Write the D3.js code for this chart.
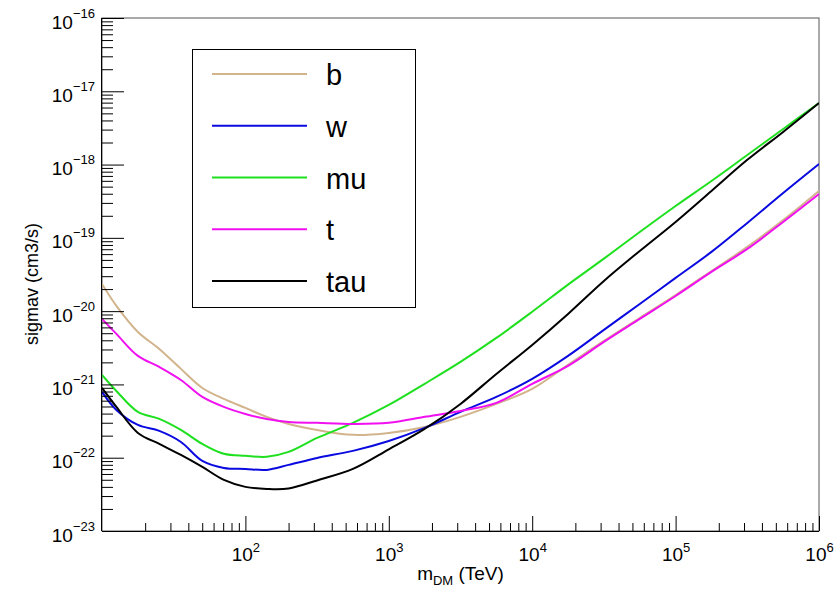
<!DOCTYPE html>
<html lang="en">
<head>
    <meta charset="UTF-8">
    <title>sigmav vs m_DM</title>
    <style>
        body {
            margin: 0;
            background: #ffffff;
        }
        svg {
            display: block;
            font-family: 'Liberation Sans', Arial, Helvetica, sans-serif;
        }
        .axis path, .axis line {
            stroke: #000;
        }
    </style>
</head>
<body>
<svg id="chart" width="840" height="589"></svg>

<script src="https://d3js.org/d3.v7.min.js"></script>
<script>
  // masses (TeV) and limits (cm3/s)
  const masses = [10, 12.6, 17.8, 25.1, 35.5, 50.1, 70.8, 100, 141, 200, 316, 562, 1000, 1778, 3162, 5623,
                  10000, 17783, 31623, 56234, 100000, 177828, 316228, 562341, 1000000];

  const sigB = [2.35e-20, 1.18e-20, 5.2e-21, 3.05e-21, 1.63e-21, 8.95e-22, 6.34e-22, 4.78e-22, 3.61e-22, 2.89e-22,
                2.39e-22, 2.05e-22, 2.18e-22, 2.63e-22, 3.61e-22, 5.42e-22, 8.69e-22, 1.85e-21, 3.92e-21, 8.07e-21,
                1.66e-20, 3.53e-20, 7.52e-20, 1.75e-19, 4.37e-19];
  const sigW = [7.91e-22, 4.49e-22, 2.8e-22, 2.32e-22, 1.64e-22, 9.04e-23, 7.26e-23, 7.03e-23, 6.82e-23, 7.98e-23,
                9.93e-23, 1.24e-22, 1.69e-22, 2.55e-22, 4.22e-22, 6.75e-22, 1.19e-21, 2.45e-21, 5.55e-21, 1.25e-20,
                2.84e-20, 6.43e-20, 1.6e-19, 4.1e-19, 1.02e-18];
  const sigMu = [1.35e-21, 8.15e-22, 4.22e-22, 3.38e-22, 2.39e-22, 1.54e-22, 1.13e-22, 1.06e-22, 1.03e-22, 1.2e-22,
                 1.86e-22, 2.99e-22, 5.25e-22, 1.02e-21, 2.03e-21, 4.31e-21, 9.8e-21, 2.3e-20, 5.2e-20, 1.2e-19,
                 2.72e-19, 5.97e-19, 1.35e-18, 3.06e-18, 6.92e-18];
  const sigT = [7.83e-21, 4.89e-21, 2.45e-21, 1.73e-21, 1.15e-21, 6.75e-22, 4.93e-22, 3.96e-22, 3.38e-22, 3.08e-22,
                2.99e-22, 2.89e-22, 2.99e-22, 3.61e-22, 4.35e-22, 5.6e-22, 1.02e-21, 1.79e-21, 3.8e-21, 7.83e-21,
                1.61e-20, 3.43e-20, 7.06e-20, 1.65e-19, 3.97e-19];
  const sigTau = [8.95e-22, 4.93e-22, 2.18e-22, 1.54e-22, 1.09e-22, 7.48e-23, 4.98e-23, 4.0e-23, 3.75e-23, 3.8e-23,
                  4.9e-23, 7.03e-23, 1.3e-22, 2.47e-22, 5.42e-22, 1.39e-21, 3.46e-21, 9.16e-21, 2.58e-20, 6.62e-20,
                  1.65e-19, 4.37e-19, 1.16e-18, 2.79e-18, 6.92e-18];

  const channels = ["b", "w", "mu", "t", "tau"];
  const channelColors = ["#d2b48c", "#0a0ae0", "#1fe01f", "#f010f0", "#000000"];

  const xTickExps = [2, 3, 4, 5, 6];
  const yTickExps = [-23, -22, -21, -20, -19, -18, -17, -16];

  const series = [sigB, sigW, sigMu, sigT, sigTau];

  const margin = { left: 102, right: 21, top: 18, bottom: 58 };
  const width = 840, height = 589;

  const svg = d3.select("#chart");

  const x = d3.scaleLog().domain([10, 1e6]).range([margin.left, width - margin.right]);
  const y = d3.scaleLog().domain([1e-23, 1e-16]).range([height - margin.bottom, margin.top]);

  // frame
  svg.append("rect")
    .attr("x", margin.left).attr("y", margin.top)
    .attr("width", x.range()[1] - x.range()[0])
    .attr("height", y.range()[0] - y.range()[1])
    .attr("fill", "none").attr("stroke", "#555").attr("stroke-width", 1);

  svg.append("clipPath").attr("id", "clip")
    .append("rect")
    .attr("x", margin.left).attr("y", margin.top)
    .attr("width", x.range()[1] - x.range()[0])
    .attr("height", y.range()[0] - y.range()[1]);

  // curves
  const line = d3.line()
    .x(d => x(d[0]))
    .y(d => y(d[1]))
    .curve(d3.curveCatmullRom.alpha(0.5));

  series.forEach((vals, i) => {
    svg.append("path")
      .datum(masses.map((m, k) => [m, vals[k]]))
      .attr("clip-path", "url(#clip)")
      .attr("fill", "none")
      .attr("stroke", channelColors[i])
      .attr("stroke-width", 2)
      .attr("d", line);
  });

  // minor ticks
  const isMajor = v => Math.abs(Math.log10(v) - Math.round(Math.log10(v))) < 1e-6;
  const xMinor = x.ticks().filter(v => !isMajor(v));
  const yMinor = y.ticks().filter(v => !isMajor(v));

  const xBottom = y.range()[0];

  svg.append("g").attr("class", "axis")
    .attr("transform", `translate(0,${xBottom})`)
    .call(d3.axisBottom(x).tickValues(xMinor).tickSize(-8).tickFormat(""))
    .call(g => g.select(".domain").remove());

  svg.append("g").attr("class", "axis")
    .attr("transform", `translate(${margin.left},0)`)
    .call(d3.axisLeft(y).tickValues(yMinor).tickSize(-11).tickFormat(""))
    .call(g => g.select(".domain").remove());

  // major x axis
  svg.append("g").attr("class", "axis")
    .attr("transform", `translate(0,${xBottom})`)
    .call(d3.axisBottom(x).tickValues(xTickExps.map(e => Math.pow(10, e))).tickSize(-15).tickSizeOuter(0).tickPadding(0))
    .call(g => g.select(".domain").attr("d", `M${x.range()[0]},0.5H${x.range()[1]}`))
    .call(g => g.selectAll(".tick text").each(function(d, i) {
      const t = d3.select(this).text(null)
        .attr("y", 30).attr("dy", null)
        .attr("font-size", 19).attr("fill", "#000").attr("text-anchor", "middle");
      t.append("tspan").text("10");
      t.append("tspan").attr("dy", -9).attr("font-size", 13).text(xTickExps[i]);
    }));

  // major y axis
  svg.append("g").attr("class", "axis")
    .attr("transform", `translate(${margin.left},0)`)
    .call(d3.axisLeft(y).tickValues(yTickExps.map(e => Math.pow(10, e))).tickSize(-22).tickSizeOuter(0).tickPadding(7))
    .call(g => g.select(".domain").attr("d", `M-0.5,${y.range()[0]}V${y.range()[1]}`))
    .call(g => g.selectAll(".tick text").each(function(d, i) {
      const t = d3.select(this).text(null)
        .attr("y", 10).attr("dy", null)
        .attr("font-size", 19).attr("fill", "#000").attr("text-anchor", "end");
      t.append("tspan").text("10");
      t.append("tspan").attr("dy", -11).attr("font-size", 13).text(String(yTickExps[i]).replace("-", "\u2212"));
    }));

  // axis titles
  const xt = svg.append("text")
    .attr("x", (x.range()[0] + x.range()[1]) / 2)
    .attr("y", 580)
    .attr("text-anchor", "middle")
    .attr("font-size", 19);
  xt.append("tspan").text("m");
  xt.append("tspan").attr("dy", 5).attr("font-size", 13).text("DM");
  xt.append("tspan").attr("dy", -5).text(" (TeV)");

  svg.append("text")
    .attr("transform", "translate(38,284) rotate(-90)")
    .attr("text-anchor", "middle")
    .attr("font-size", 18)
    .text("sigmav (cm3/s)");

  // legend
  const legend = svg.append("g");
  legend.append("rect")
    .attr("x", 192.5).attr("y", 49.5)
    .attr("width", 223).attr("height", 258)
    .attr("fill", "#fff").attr("stroke", "#000").attr("stroke-width", 1);

  const legendY = d3.scalePoint().domain(channels).range([74, 281]);

  channels.forEach((c, i) => {
    legend.append("line")
      .attr("x1", 212).attr("x2", 307)
      .attr("y1", legendY(c)).attr("y2", legendY(c))
      .attr("stroke", channelColors[i]).attr("stroke-width", 2);
    legend.append("text")
      .attr("x", 326).attr("y", legendY(c) + 11)
      .attr("font-size", 29)
      .text(c);
  });
</script>
</body>
</html>
